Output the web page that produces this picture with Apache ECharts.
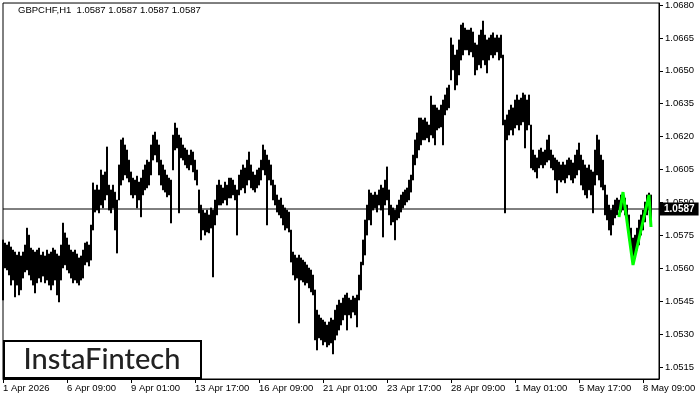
<!DOCTYPE html>
<html><head><meta charset="utf-8">
<script src="https://cdn.jsdelivr.net/npm/echarts@6/dist/echarts.min.js"></script>
<style>html,body{margin:0;padding:0;background:#fff}#c{width:700px;height:400px}</style>
</head><body><div id="c"></div>
<script>
// H1 bars, one every two hours-of-pixels (high / low per bar)
const highs = [
1.05729,1.05715,1.05706,1.05720,1.05697,1.05683,1.05674,1.05660,1.05674,1.05656,
1.05674,1.05706,1.05783,1.05751,1.05692,1.05683,1.05674,1.05683,1.05692,1.05660,
1.05674,1.05656,1.05683,1.05665,1.05674,1.05692,1.05683,1.05665,1.05656,1.05706,
1.05806,1.05761,1.05738,1.05706,1.05683,1.05674,1.05683,1.05665,1.05647,1.05656,
1.05683,1.05715,1.05720,1.05706,1.05797,1.05989,1.05957,1.05979,1.05957,1.06048,
1.06025,1.06039,1.06153,1.05979,1.05957,1.05979,1.05947,1.05911,1.06071,1.06185,
1.06194,1.06162,1.06139,1.06093,1.06039,1.06011,1.06002,1.06020,1.05993,1.06011,
1.06048,1.06071,1.06093,1.06084,1.06162,1.06207,1.06221,1.06185,1.06162,1.06093,
1.06071,1.06048,1.06025,1.06011,1.06002,1.06207,1.06262,1.06239,1.06207,1.06194,
1.06162,1.06148,1.06139,1.06116,1.06139,1.06130,1.06093,1.06048,1.05957,1.05888,
1.05865,1.05852,1.05865,1.05843,1.05875,1.05865,1.05911,1.05979,1.06002,1.05979,
1.05966,1.05993,1.05979,1.06011,1.06011,1.06002,1.05979,1.05957,1.06025,1.06048,
1.06071,1.06057,1.06093,1.06130,1.06071,1.06039,1.06025,1.06048,1.06057,1.06093,
1.06162,1.06139,1.06116,1.06093,1.06071,1.06002,1.05979,1.05934,1.05911,1.05920,
1.05888,1.05875,1.05865,1.05856,1.05774,1.05674,1.05660,1.05647,1.05660,1.05647,
1.05637,1.05628,1.05615,1.05601,1.05592,1.05569,1.05501,1.05409,1.05387,1.05373,
1.05364,1.05355,1.05341,1.05355,1.05373,1.05364,1.05409,1.05432,1.05455,1.05441,
1.05464,1.05478,1.05487,1.05464,1.05455,1.05473,1.05464,1.05478,1.05569,1.05628,
1.05729,1.05820,1.05888,1.05957,1.05943,1.05934,1.05947,1.05934,1.05957,1.05979,
1.05966,1.06002,1.06062,1.05957,1.05888,1.05875,1.05865,1.05888,1.05911,1.05934,
1.05947,1.05957,1.05966,1.06002,1.06025,1.06116,1.06185,1.06217,1.06285,1.06285,
1.06276,1.06285,1.06267,1.06253,1.06385,1.06344,1.06344,1.06331,1.06321,1.06344,
1.06367,1.06390,1.06422,1.06435,1.06650,1.06618,1.06572,1.06595,1.06641,1.06709,
1.06718,1.06695,1.06686,1.06686,1.06695,1.06677,1.06627,1.06618,1.06663,1.06686,
1.06727,1.06663,1.06641,1.06650,1.06663,1.06673,1.06650,1.06663,1.06650,1.06663,
1.06572,1.06276,1.06299,1.06321,1.06344,1.06331,1.06367,1.06390,1.06367,1.06376,
1.06399,1.06390,1.06367,1.06390,1.06253,1.06139,1.06116,1.06103,1.06139,1.06148,
1.06130,1.06139,1.06185,1.06207,1.06139,1.06116,1.06103,1.06093,1.06084,1.06071,
1.06084,1.06071,1.06093,1.06103,1.06093,1.06080,1.06116,1.06139,1.06171,1.06116,
1.06093,1.06071,1.06057,1.06071,1.06048,1.06039,1.06139,1.06207,1.06185,1.06116,
1.06093,1.05979,1.05934,1.05888,1.05865,1.05888,1.05911,1.05920,1.05911,1.05934,
1.05943,1.05920,1.05888,1.05843,1.05783,1.05738,1.05751,1.05783,1.05820,1.05843,
1.05865,1.05902,1.05934,1.05943,1.05934
];
const lows = [
1.05455,1.05601,1.05592,1.05569,1.05523,1.05546,1.05469,1.05523,1.05478,1.05501,
1.05555,1.05583,1.05592,1.05569,1.05546,1.05523,1.05487,1.05533,1.05555,1.05537,
1.05564,1.05533,1.05546,1.05523,1.05501,1.05523,1.05546,1.05478,1.05446,1.05546,
1.05601,1.05615,1.05592,1.05578,1.05555,1.05533,1.05546,1.05533,1.05523,1.05546,
1.05555,1.05615,1.05628,1.05610,1.05637,1.05774,1.05856,1.05865,1.05852,1.05888,
1.05875,1.05911,1.05934,1.05865,1.05852,1.05875,1.05774,1.05669,1.05911,1.05979,
1.06002,1.06025,1.06011,1.05993,1.05934,1.05920,1.05934,1.05875,1.05911,1.05834,
1.05934,1.05957,1.05966,1.05979,1.06025,1.06093,1.06116,1.06084,1.06025,1.05979,
1.05957,1.05947,1.05925,1.05934,1.05806,1.06048,1.06139,1.06148,1.05852,1.06103,
1.06093,1.06071,1.06057,1.06048,1.06071,1.06039,1.06002,1.05979,1.05852,1.05729,
1.05774,1.05751,1.05765,1.05761,1.05783,1.05560,1.05797,1.05843,1.05888,1.05888,
1.05897,1.05911,1.05888,1.05920,1.05920,1.05934,1.05911,1.05751,1.05934,1.05957,
1.05966,1.05943,1.05979,1.06002,1.05966,1.05957,1.05947,1.05966,1.05979,1.06002,
1.06048,1.06025,1.05797,1.06002,1.05979,1.05911,1.05888,1.05856,1.05843,1.05829,
1.05797,1.05774,1.05783,1.05765,1.05628,1.05569,1.05546,1.05555,1.05350,1.05546,
1.05537,1.05523,1.05533,1.05510,1.05492,1.05478,1.05273,1.05227,1.05282,1.05273,
1.05250,1.05264,1.05241,1.05250,1.05259,1.05209,1.05273,1.05295,1.05318,1.05341,
1.05364,1.05387,1.05318,1.05387,1.05373,1.05400,1.05387,1.05332,1.05455,1.05501,
1.05615,1.05660,1.05751,1.05820,1.05797,1.05865,1.05875,1.05856,1.05888,1.05865,
1.05742,1.05888,1.05911,1.05843,1.05797,1.05811,1.05729,1.05820,1.05829,1.05856,
1.05875,1.05888,1.05902,1.05911,1.05947,1.06002,1.06071,1.06103,1.06139,1.06162,
1.06185,1.06185,1.06194,1.06176,1.06207,1.06194,1.06162,1.06230,1.06239,1.06244,
1.06162,1.06299,1.06321,1.06331,1.06458,1.06504,1.06413,1.06435,1.06481,1.06549,
1.06572,1.06595,1.06595,1.06572,1.06586,1.06563,1.06481,1.06504,1.06527,1.06513,
1.06549,1.06527,1.06490,1.06549,1.06572,1.06559,1.06572,1.06586,1.06549,1.06559,
1.06253,1.05852,1.06185,1.06207,1.06230,1.06207,1.06239,1.06253,1.06230,1.06253,
1.06267,1.06148,1.06230,1.06253,1.06057,1.06048,1.06039,1.06011,1.06057,1.06071,
1.06057,1.06071,1.06084,1.06093,1.06057,1.06048,1.06002,1.05943,1.06002,1.05993,
1.06002,1.05989,1.06011,1.06025,1.06002,1.05989,1.06011,1.06025,1.06048,1.05979,
1.05957,1.05934,1.05920,1.05957,1.05934,1.05852,1.05979,1.06025,1.06002,1.05970,
1.05957,1.05843,1.05820,1.05774,1.05751,1.05797,1.05829,1.05843,1.05865,1.05856,
1.05865,1.05843,1.05797,1.05729,1.05674,1.05637,1.05647,1.05683,1.05706,1.05751,
1.05774,1.05811,1.05843,1.05865,1.05797
];
const tickLabels = ["1 Apr 2026","6 Apr 09:00","9 Apr 01:00","13 Apr 17:00","16 Apr 09:00","21 Apr 01:00","23 Apr 17:00","28 Apr 09:00","1 May 01:00","5 May 17:00","8 May 09:00"];
const tickIdx = [0,32,64,96,128,160,192,224,256,288,320];
const yTicks = [1.0515,1.0530,1.0545,1.0560,1.0575,1.0590,1.0605,1.0620,1.0635,1.0650,1.0665,1.0680];
const patternIdx = [308,310,315,323,324];
const patternPrice = [1.05833,1.05947,1.05615,1.05934,1.05788];
const currentPrice = 1.0587;
const titleText = "GBPCHF,H1  1.0587 1.0587 1.0587 1.0587";

const nCats = 329;
const cats = [];
for (let i = 0; i < nCats; i++) cats.push(String(i));
const candles = highs.map((h, i) => [lows[i], h, lows[i], h]);
const pattern = patternIdx.map((x, i) => [x, patternPrice[i]]);
const FONT = 'Liberation Sans';

const chart = echarts.init(document.getElementById('c'), null, {renderer: 'canvas'});
chart.setOption({
  animation: false,
  backgroundColor: '#fff',
  grid: {left: 3, top: 3, width: 656, height: 376, show: true, borderColor: '#000', borderWidth: 1, backgroundColor: 'transparent'},
  xAxis: {
    type: 'category', data: cats, boundaryGap: false,
    axisLine: {lineStyle: {color: '#000', width: 1}},
    axisTick: {customValues: tickIdx, length: 4, lineStyle: {color: '#000'}},
    axisLabel: {customValues: tickIdx, align: 'left', margin: 4, color: '#000', fontFamily: FONT, fontSize: 9.5,
      formatter: (v) => { const k = tickIdx.indexOf(Number(v)); return k >= 0 ? tickLabels[k] : ''; }},
    splitLine: {show: false}
  },
  yAxis: {
    type: 'value', position: 'right', min: 1.05095, max: 1.06809,
    axisLine: {show: true, lineStyle: {color: '#000'}},
    axisTick: {show: true, customValues: yTicks, length: 4, lineStyle: {color: '#000'}},
    axisLabel: {customValues: yTicks, margin: 6, color: '#000', fontFamily: FONT, fontSize: 9.5, formatter: v => v.toFixed(4)},
    splitLine: {show: false}
  },
  series: [
    {
      type: 'candlestick', data: candles, barWidth: 2, z: 3,
      itemStyle: {color: '#000', color0: '#000', borderColor: '#000', borderColor0: '#000', borderWidth: 1, opacity: 1}
    },
    {
      type: 'line', data: [[0, currentPrice], [nCats - 1, currentPrice]], symbol: 'none', z: 2, silent: true,
      lineStyle: {color: '#000', width: 1},
      endLabel: {show: true, formatter: currentPrice.toFixed(4), color: '#fff', backgroundColor: '#000',
        padding: [2, 4, 1, 4], fontFamily: FONT, fontSize: 10, fontWeight: 'bold', distance: 1}
    },
    {
      type: 'line', data: pattern, symbol: 'none', z: 5,
      lineStyle: {color: '#00ff00', width: 3}
    }
  ],
  graphic: [
    {type: 'text', left: 18, top: 5, style: {text: titleText, font: '9.5px "Liberation Sans"', fill: '#000'}},
    {type: 'rect', shape: {x: 4, y: 341, width: 197, height: 37}, style: {fill: '#fff', stroke: '#000', lineWidth: 2}, z: 100},
    {type: 'text', x: 102, y: 360, style: {text: 'InstaFintech', font: '500 29px Lato', fill: '#222', align: 'center', verticalAlign: 'middle'}, z: 101}
  ]
});
</script>
</body></html>
